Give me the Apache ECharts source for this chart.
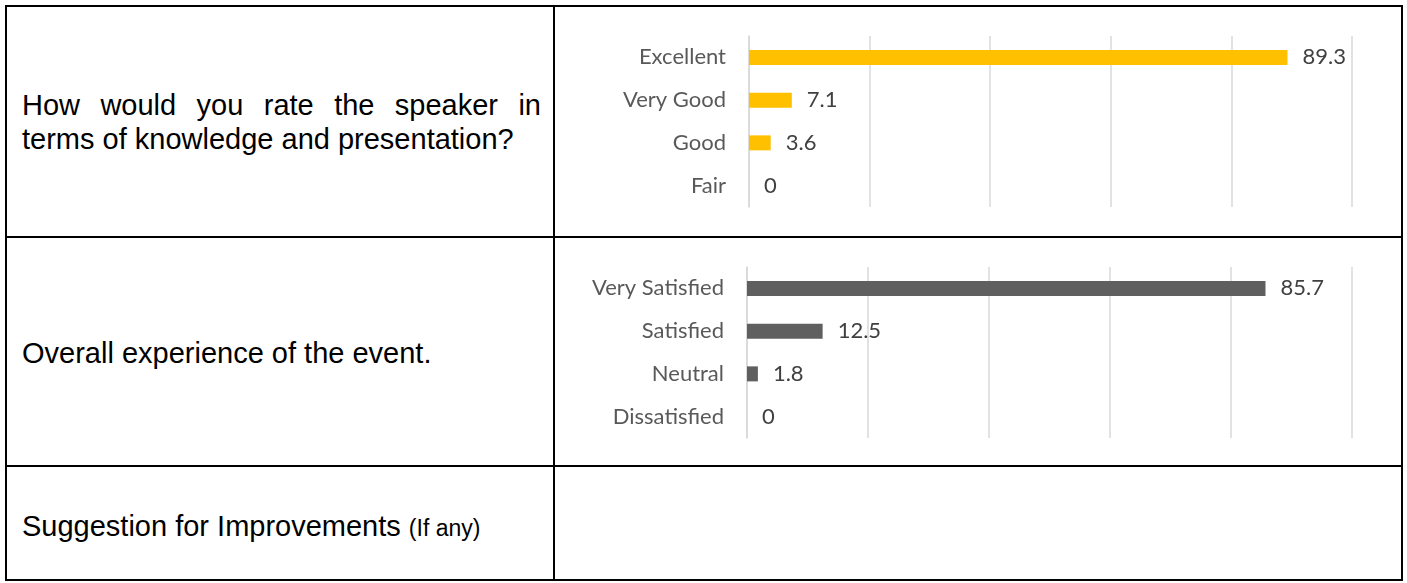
<!DOCTYPE html>
<html>
<head>
<meta charset="utf-8">
<script src="https://cdn.jsdelivr.net/npm/echarts@6/dist/echarts.min.js"></script>
<style>
  body { margin: 0; background: #fff; }
  #page { position: relative; width: 1407px; height: 583px; overflow: hidden; }
  .line { position: absolute; background: #000; }
  .cell { position: absolute; font-family: "Liberation Sans", Arial, sans-serif; font-size: 29px; color: #000; line-height: 34px; white-space: nowrap; }
  .just { white-space: normal; text-align: justify; text-align-last: justify; }
  #chart { position: absolute; left: 0; top: 0; width: 1407px; height: 583px; }
</style>
</head>
<body>
<div id="page">
  <div class="line" style="left:5px;top:5px;width:1398px;height:2px"></div>
  <div class="line" style="left:5px;top:236px;width:1398px;height:2px"></div>
  <div class="line" style="left:5px;top:465px;width:1398px;height:2px"></div>
  <div class="line" style="left:5px;top:579px;width:1398px;height:2px"></div>
  <div class="line" style="left:5px;top:5px;width:2px;height:576px"></div>
  <div class="line" style="left:553px;top:5px;width:2px;height:576px"></div>
  <div class="line" style="left:1401px;top:5px;width:2px;height:576px"></div>

  <div class="cell just" style="left:22px;top:88px;width:519px">How would you rate the speaker in</div>
  <div class="cell" style="left:22px;top:122px">terms of knowledge and presentation?</div>
  <div class="cell" style="left:22px;top:336px">Overall experience of the event.</div>
  <div class="cell" style="left:22px;top:509px">Suggestion for Improvements <span style="font-size:23px">(If any)</span></div>

  <div id="chart"></div>
</div>
<script>
  var speakerCategories = ['Excellent', 'Very Good', 'Good', 'Fair'];
  var speakerValues = [89.3, 7.1, 3.6, 0];
  var eventCategories = ['Very Satisfied', 'Satisfied', 'Neutral', 'Dissatisfied'];
  var eventValues = [85.7, 12.5, 1.8, 0];

  var chart = echarts.init(document.getElementById('chart'));
  var labelFont = 'Lato, "Open Sans", sans-serif';

  function xAxisFor(idx) {
    return {
      type: 'value', gridIndex: idx, min: 0, max: 100, interval: 20,
      axisLabel: { show: false }, axisLine: { show: false }, axisTick: { show: false },
      splitLine: { lineStyle: { color: '#d9d9d9', width: 1.5 } }
    };
  }
  function yAxisFor(idx, cats) {
    return {
      type: 'category', gridIndex: idx, data: cats, inverse: true,
      axisLine: { show: true, lineStyle: { color: '#d9d9d9', width: 1.5 } },
      axisTick: { show: false },
      axisLabel: { color: '#595959', fontSize: 22, fontFamily: labelFont, margin: 23 }
    };
  }
  function barFor(idx, values, color) {
    return {
      type: 'bar', xAxisIndex: idx, yAxisIndex: idx, data: values,
      barWidth: 15, silent: true,
      itemStyle: { color: color },
      label: { show: true, position: 'right', distance: 15, color: '#404040', fontSize: 22, fontFamily: labelFont }
    };
  }

  chart.setOption({
    animation: false,
    grid: [
      { left: 749, width: 603, top: 36, height: 171 },
      { left: 747, width: 605, top: 267, height: 171 }
    ],
    xAxis: [xAxisFor(0), xAxisFor(1)],
    yAxis: [yAxisFor(0, speakerCategories), yAxisFor(1, eventCategories)],
    series: [barFor(0, speakerValues, '#ffc000'), barFor(1, eventValues, '#5f5f5f')]
  });
</script>
</body>
</html>
